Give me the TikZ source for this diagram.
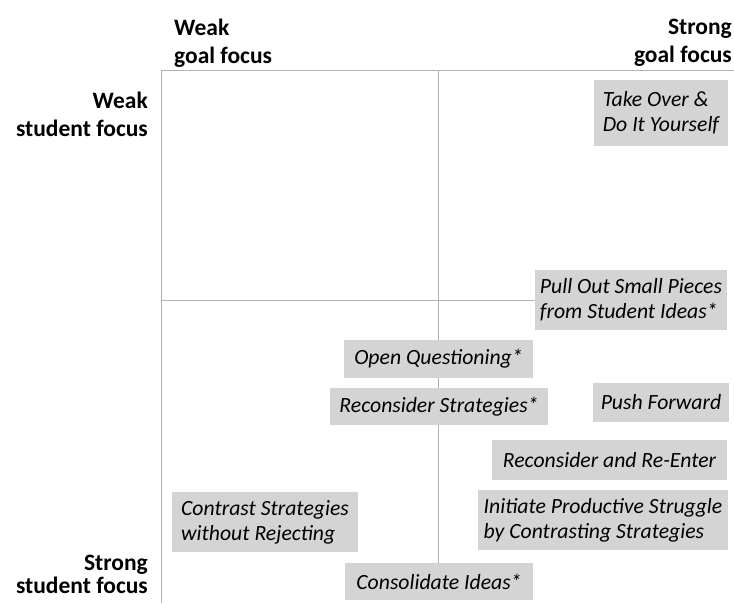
\documentclass[tikz,border=0pt]{standalone}
\usepackage{fontspec}
\setmainfont{Carlito}
\usetikzlibrary{positioning}
\definecolor{boxgray}{RGB}{212,212,212}
\definecolor{axisgray}{RGB}{178,178,178}

\begin{document}
\begin{tikzpicture}[x=1pt,y=-1pt,
        tactic/.style={fill=boxgray,font=\fontsize{21.7}{25}\selectfont\itshape,align=left,inner sep=0pt},
        axislabel/.style={font=\fontsize{23.5}{28}\selectfont\bfseries,inner sep=0pt},
        axis/.style={draw=axisgray,line width=1pt}]
        %\draw [help lines] (0,0) grid[step=50] (734,603);
        \useasboundingbox (0,0) rectangle (734,603);

        \coordinate (tl) at (161,70);
        \coordinate (tr) at (734,70);
        \coordinate (bl) at (161,603);
        \coordinate (tc) at (438,70);
        \coordinate (bc) at (438,596);
        \coordinate (ml) at (161,300);
        \coordinate (mr) at (540,300);

        \draw[axis] (tr) -- (tl) -- (bl);
        \draw[axis] (tc) -- (bc);
        \draw[axis] (ml) -- (mr);

        \node [axislabel,align=left,anchor=north west] (wgoal) at (174,19) {Weak\\goal focus};
        \node [axislabel,align=right,anchor=north east] (sgoal) at (732,19) {Strong\\goal focus};
        \node [axislabel,align=right,anchor=north east] (wstud) at (148,92) {Weak\\student focus};
        \node [axislabel,align=right,anchor=north east,font=\fontsize{23.5}{23}\selectfont\bfseries] (sstud) at (148,555) {Strong\\student focus};

        \node [tactic,minimum width=134,minimum height=66] (take) at (661,113) {Take Over \&\\Do It Yourself};
        \node [tactic,minimum width=192,minimum height=60] (pull) at (631,300) {Pull Out Small Pieces\\from Student Ideas*};
        \node [tactic,minimum width=189,minimum height=38] (open) at (438.5,359) {Open Questioning*};
        \node [tactic,minimum width=218,minimum height=37] (recstrat) at (439,406.5) {Reconsider Strategies*};
        \node [tactic,minimum width=136,minimum height=39] (push) at (661,402.5) {Push Forward};
        \node [tactic,minimum width=235,minimum height=40] (reenter) at (609.5,460) {Reconsider and Re-Enter};
        \node [tactic,minimum width=250,minimum height=60] (initiate) at (603,520) {Initiate Productive Struggle\\by Contrasting Strategies};
        \node [tactic,minimum width=186,minimum height=60] (contrast) at (265,522) {Contrast Strategies\\without Rejecting};
        \node [tactic,minimum width=188,minimum height=37] (consol) at (439,581.5) {Consolidate Ideas*};

    \end{tikzpicture}
\end{document}
